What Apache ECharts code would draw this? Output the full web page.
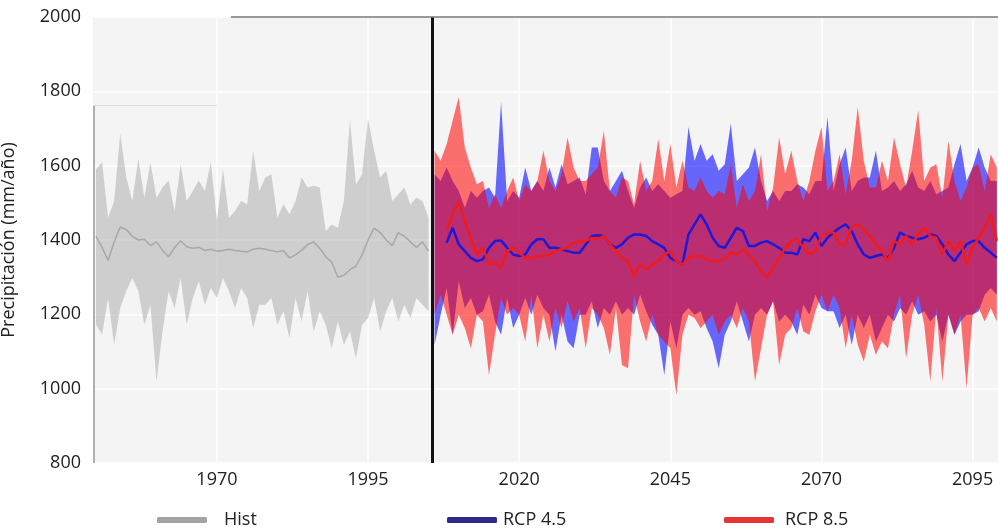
<!DOCTYPE html>
<html>
<head>
<meta charset="utf-8">
<script src="https://cdn.jsdelivr.net/npm/echarts@6/dist/echarts.min.js"></script>
<style>
  html, body { margin: 0; padding: 0; background: #fff; }
  #chart { width: 998px; height: 532px; }
</style>
</head>
<body>
<div id="chart"></div>
<script>
// años
const histYears = []
for (let y = 1950; y <= 2005; y++) histYears.push(y)
const rcpYears = []
for (let y = 2006; y <= 2099; y++) rcpYears.push(y)
const meanYears = []
for (let y = 2008; y <= 2099; y++) meanYears.push(y)

const xTicks = [1970, 1995, 2020, 2045, 2070, 2095]

// histórico (mm/año)
const histUpper = [1590, 1610, 1460, 1505, 1686, 1568, 1505, 1618, 1514, 1609, 1514, 1541, 1560, 1478, 1604, 1505, 1532, 1560, 1532, 1609, 1451, 1591, 1460, 1478, 1505, 1496, 1640, 1532,
  1568, 1577, 1460, 1496, 1469, 1505, 1568, 1541, 1546, 1541, 1424, 1442, 1433, 1505, 1722, 1550, 1577, 1726, 1640, 1568, 1586, 1505, 1523, 1541, 1496, 1514, 1505, 1460]
const histLower = [1172, 1145, 1244, 1118, 1217, 1262, 1298, 1262, 1172, 1226, 1019, 1154, 1262, 1217, 1298, 1172, 1244, 1289, 1226, 1271, 1244, 1298, 1262, 1217, 1271, 1244, 1163, 1226,
  1226, 1244, 1172, 1208, 1136, 1244, 1181, 1262, 1154, 1208, 1172, 1109, 1181, 1118, 1154, 1082, 1172, 1190, 1244, 1154, 1208, 1244, 1181, 1226, 1190, 1244, 1226, 1208]
const histMean = [1410, 1380, 1345, 1395, 1435, 1428, 1410, 1400, 1402, 1385, 1395, 1372, 1355, 1380, 1398, 1382, 1378, 1380, 1372, 1375, 1370, 1372, 1375, 1372, 1370, 1368, 1375, 1378,
  1375, 1372, 1368, 1372, 1352, 1360, 1372, 1388, 1395, 1378, 1355, 1340, 1300, 1305, 1320, 1330, 1360, 1400, 1432, 1420, 1400, 1385, 1420, 1410, 1395, 1380, 1395, 1370]

// RCP 4.5
const rcp45Upper = [1577, 1559, 1595, 1559, 1532, 1487, 1532, 1514, 1532, 1541, 1514, 1771, 1505, 1532, 1514, 1595, 1532, 1559, 1532, 1595, 1541, 1604, 1550, 1559, 1568,
  1523, 1649, 1649, 1559, 1532, 1559, 1586, 1532, 1487, 1541, 1568, 1532, 1550, 1532, 1514, 1523, 1532, 1704, 1613, 1658, 1613, 1631, 1586, 1604,
  1713, 1559, 1577, 1595, 1649, 1559, 1505, 1532, 1505, 1532, 1532, 1550, 1541, 1523, 1559, 1559, 1731, 1532, 1604, 1649, 1532, 1559, 1568, 1568,
  1640, 1532, 1541, 1559, 1532, 1550, 1586, 1541, 1532, 1559, 1523, 1532, 1541, 1604, 1658, 1559, 1595, 1649, 1595, 1559, 1559]
const rcp45Lower = [1118, 1199, 1271, 1145, 1289, 1217, 1244, 1199, 1208, 1253, 1181, 1145, 1244, 1163, 1199, 1244, 1199, 1253, 1217, 1199, 1100, 1199, 1127, 1109, 1199,
  1199, 1235, 1163, 1217, 1199, 1235, 1199, 1217, 1199, 1253, 1208, 1172, 1145, 1037, 1181, 1109, 1199, 1217, 1199, 1208, 1163, 1127, 1055, 1145,
  1181, 1235, 1181, 1127, 1199, 1217, 1199, 1235, 1181, 1199, 1181, 1145, 1226, 1199, 1253, 1217, 1208, 1208, 1163, 1199, 1118, 1199, 1163, 1199,
  1127, 1163, 1199, 1181, 1217, 1199, 1235, 1199, 1208, 1181, 1199, 1127, 1199, 1145, 1181, 1199, 1199, 1208, 1253, 1271, 1253]
const rcp45Mean = [1393, 1433, 1388, 1370, 1352, 1343, 1348, 1379, 1397, 1399, 1379, 1361, 1357, 1361, 1388, 1402, 1402, 1379, 1379, 1375, 1370, 1366, 1366,
  1388, 1411, 1413, 1411, 1388, 1379, 1388, 1406, 1415, 1415, 1411, 1397, 1388, 1379, 1352, 1343, 1334, 1415, 1442, 1469, 1442, 1406, 1384, 1379,
  1406, 1433, 1424, 1384, 1384, 1393, 1397, 1388, 1379, 1366, 1366, 1361, 1402, 1397, 1420, 1384, 1406, 1420, 1433, 1442, 1424, 1388, 1361, 1352,
  1357, 1361, 1352, 1379, 1420, 1411, 1406, 1402, 1406, 1415, 1411, 1388, 1361, 1343, 1366, 1388, 1397, 1397, 1379, 1366, 1352]

// RCP 8.5
const rcp85Upper = [1640, 1613, 1658, 1722, 1785, 1649, 1595, 1550, 1559, 1487, 1523, 1487, 1532, 1568, 1505, 1550, 1532, 1559, 1640, 1559, 1532, 1577, 1676, 1595, 1559,
  1559, 1577, 1595, 1694, 1532, 1514, 1568, 1559, 1496, 1613, 1532, 1559, 1672, 1559, 1658, 1541, 1613, 1541, 1532, 1568, 1532, 1514, 1532, 1523,
  1604, 1487, 1550, 1505, 1532, 1631, 1478, 1541, 1676, 1577, 1640, 1559, 1505, 1559, 1640, 1704, 1532, 1559, 1631, 1523, 1613, 1758, 1613, 1541,
  1541, 1613, 1559, 1676, 1604, 1541, 1640, 1749, 1559, 1595, 1604, 1514, 1667, 1559, 1505, 1541, 1595, 1604, 1532, 1631, 1595]
const rcp85Lower = [1199, 1253, 1199, 1145, 1199, 1163, 1109, 1199, 1181, 1037, 1145, 1244, 1199, 1217, 1199, 1127, 1253, 1109, 1199, 1127, 1217, 1163, 1235, 1181, 1217,
  1109, 1217, 1199, 1163, 1091, 1217, 1064, 1055, 1253, 1181, 1127, 1199, 1145, 1127, 1109, 983, 1145, 1199, 1190, 1163, 1181, 1199, 1145, 1181,
  1199, 1163, 1217, 1181, 1019, 1109, 1199, 1235, 1064, 1145, 1163, 1217, 1154, 1145, 1208, 1253, 1208, 1253, 1217, 1109, 1199, 1118, 1073, 1145,
  1091, 1127, 1109, 1199, 1253, 1082, 1199, 1253, 1172, 1019, 1217, 1019, 1199, 1145, 1199, 1001, 1199, 1217, 1181, 1217, 1181]
const rcp85Mean = [1429, 1470, 1505, 1451, 1406, 1361, 1379, 1334, 1339, 1325, 1370, 1379, 1366, 1352, 1352, 1357, 1357, 1361, 1370, 1375, 1379, 1393, 1397,
  1397, 1406, 1402, 1411, 1388, 1370, 1352, 1343, 1303, 1334, 1321, 1334, 1343, 1361, 1370, 1343, 1334, 1352, 1357, 1357, 1348, 1343, 1343, 1348,
  1366, 1361, 1375, 1361, 1343, 1316, 1298, 1325, 1352, 1379, 1397, 1402, 1379, 1361, 1370, 1411, 1420, 1420, 1388, 1388, 1438, 1442, 1429, 1410,
  1388, 1370, 1343, 1397, 1388, 1411, 1388, 1415, 1433, 1411, 1406, 1361, 1397, 1370, 1397, 1334, 1379, 1406, 1433, 1469, 1397]

const pairs = (xs, ys) => xs.map((x, i) => [x, ys[i]])

// banda min-max: un solo polígono por escenario (evita costuras con transparencia)
const band = (id, xs, lower, upper, color) => ({
  name: id, type: 'custom', silent: true, z: 2,
  data: xs.map((x, i) => [x, lower[i], upper[i]]),
  encode: { x: 0, y: [1, 2] },
  renderItem: (params, api) => {
    if (params.dataIndexInside !== 0) return null
    const n = params.dataInsideLength
    const top = [], bottom = []
    for (let i = 0; i < n; i++) {
      const x = api.value(0, i)
      top.push(api.coord([x, api.value(2, i)]))
      bottom.unshift(api.coord([x, api.value(1, i)]))
    }
    return { type: 'polygon', shape: { points: top.concat(bottom) }, style: { fill: color } }
  }
})

const meanLine = (name, xs, ys, color, width) => ({
  name, type: 'line', data: pairs(xs, ys), symbol: 'none', z: 4,
  lineStyle: { color, width }, itemStyle: { color }
})

const font = '"Open Sans", "Noto Sans", sans-serif'
const chart = echarts.init(document.getElementById('chart'))

const legendAt = (left, name, color, padLeft) => ({
  left, top: 506, icon: 'roundRect', itemWidth: 50, itemHeight: 6,
  data: [{ name, itemStyle: { color } }],
  textStyle: { fontFamily: font, fontSize: 18, color: '#222', padding: [0, 0, 0, padLeft] }
})

const option = {
  animation: false,
  backgroundColor: '#ffffff',
  grid: {
    left: 93, right: 0, top: 17, bottom: 69, outerBoundsMode: 'none',
    show: true, backgroundColor: '#f4f4f4', borderWidth: 0
  },
  legend: [
    legendAt(152, 'Hist', '#a3a3a3', 12),
    legendAt(442, 'RCP 4.5', '#2d2a8c', 1),
    legendAt(719, 'RCP 8.5', '#e53535', 6)
  ],
  xAxis: {
    type: 'value', min: 1949.5, max: 2099.2,
    axisLine: { show: false },
    axisTick: { show: false, customValues: xTicks },
    axisLabel: { customValues: xTicks, formatter: v => String(v), fontFamily: font, fontSize: 18, color: '#222', margin: 8 },
    splitLine: { show: true, lineStyle: { color: '#ffffff', width: 1.5 } }
  },
  yAxis: {
    type: 'value', min: 800, max: 2000, interval: 200,
    name: 'Precipitación (mm/año)', nameLocation: 'middle', nameGap: 75, nameRotate: 90,
    nameTextStyle: { fontFamily: font, fontSize: 18, color: '#222' },
    axisLine: { show: false }, axisTick: { show: false },
    axisLabel: { formatter: v => String(v), fontFamily: font, fontSize: 18, color: '#222', margin: 12 },
    splitLine: { show: true, lineStyle: { color: '#ffffff', width: 1.5 } }
  },
  series: [
    band('hist', histYears, histLower, histUpper, 'rgba(160,160,160,0.45)'),
    band('rcp45', rcpYears, rcp45Lower, rcp45Upper, 'rgba(0,0,255,0.58)'),
    band('rcp85', rcpYears, rcp85Lower, rcp85Upper, 'rgba(255,0,0,0.55)'),
    meanLine('Hist', histYears, histMean, '#a8a8a8', 1.5),
    meanLine('RCP 4.5', meanYears, rcp45Mean, '#1e18d8', 2.5),
    meanLine('RCP 8.5', meanYears, rcp85Mean, '#f01c1c', 2.5),
    {
      name: 'lineas', type: 'line', data: [], silent: true, z: 5,
      markLine: {
        symbol: 'none', silent: true, label: { show: false },
        data: [
          { xAxis: 2005.55, lineStyle: { color: '#111', width: 3, type: 'solid' } },
          [{ coord: [1972.3, 2000], lineStyle: { color: '#777', width: 1.5, type: 'solid' } }, { coord: [2099.2, 2000] }],
          [{ coord: [1949.7, 1763], lineStyle: { color: '#999', width: 1.5, type: 'solid' } }, { coord: [1949.7, 800] }],
          [{ coord: [1949.5, 1763], lineStyle: { color: '#dedede', width: 1, type: 'solid' } }, { coord: [1970, 1763] }]
        ]
      }
    }
  ]
}
chart.setOption(option)
</script>
</body>
</html>
